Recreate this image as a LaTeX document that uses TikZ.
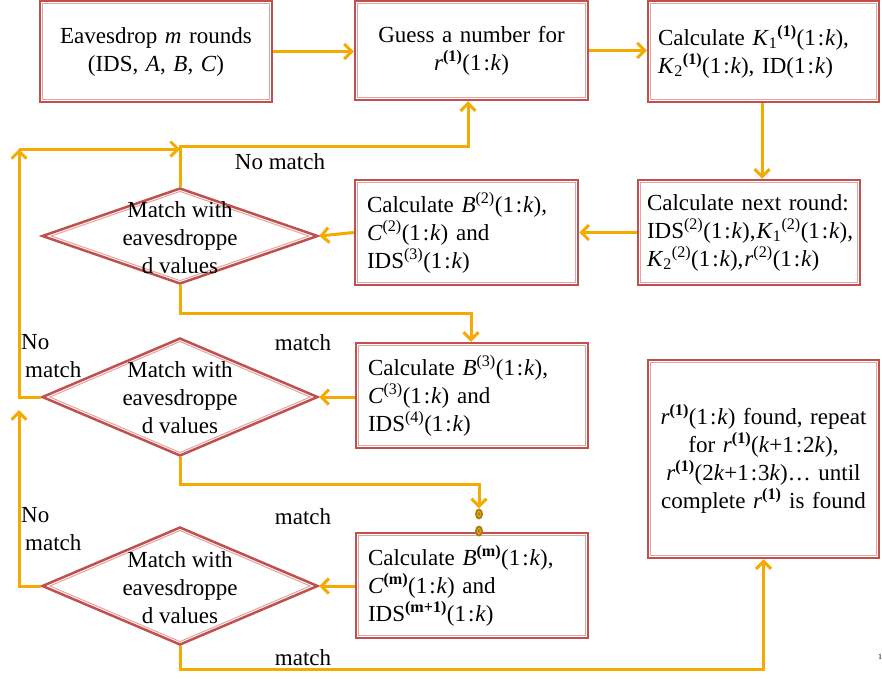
\documentclass[tikz,border=0pt]{standalone}
\usepackage{fontspec}
\setmainfont{Liberation Serif}
\usetikzlibrary{arrows.meta,shapes.geometric,calc}
\definecolor{bred}{HTML}{C0504D}
\definecolor{bpink}{HTML}{E3A3A1}
\definecolor{aorg}{RGB}{244,170,0}
\definecolor{dotc}{RGB}{176,126,8}
\definecolor{dotl}{RGB}{230,180,50}
\newcommand\OneK{(1\kern2pt:\kern0.8pt\textit{k})}
\newcommand\Sup[1]{\textsuperscript{#1}}
\newcommand\Sub[1]{\textsubscript{#1}}
\begin{document}
\begin{tikzpicture}[x=1pt,y=-1pt,
  every node/.style={font=\fontsize{23}{28}\selectfont, inner sep=0pt},
  box/.style={rectangle, draw=bred, line width=2.5pt, fill=white, inner ysep=0pt},
  lbox/.style={box, align=left},
  cbox/.style={box, align=center},
  dia/.style={diamond, draw=bred, line width=2.5pt, fill=white, inner sep=0pt, minimum width=276pt},
  diain/.style={diamond, draw=bpink, line width=1pt, inner sep=0pt},
  inline/.style={draw=bpink, line width=1pt},
  arr/.style={draw=aorg, line width=3pt, -{Straight Barb[length=7.5pt,width=15pt]}},
  dotnode/.style={ellipse, fill=dotc, minimum width=8pt, minimum height=11pt, inner sep=0pt}]
\useasboundingbox (0,0) rectangle (882,678);

% boxes
\node[cbox, minimum height=101pt, inner xsep=10pt, text width=212pt] (b1) at (156,51.5)
  {Eavesdrop \textit{m} rounds\\(IDS, \textit{A}, \textit{B}, \textit{C})};
\node[cbox, minimum height=99pt, inner xsep=10pt, text width=213pt] (b2) at (471.5,50.5)
  {Guess a number for\\\textit{r}\Sup{\textbf{(1)}}\OneK};
\node[lbox, minimum height=101pt, inner xsep=10pt, text width=211pt] (b3) at (763.5,51.5)
  {\mbox{Calculate \textit{K}\Sub{1}\Sup{\textbf{(1)}}\OneK,}\\\mbox{\textit{K}\Sub{2}\Sup{\textbf{(1)}}\OneK, ID\OneK}};
\node[lbox, minimum height=105pt, inner xsep=9pt, text width=204pt] (b4) at (749,232.5)
  {\mbox{Calculate next round:}\\\mbox{IDS\Sup{(2)}\OneK,\kern1pt\textit{K}\Sub{1}\Sup{(2)}\OneK,}\\\mbox{\textit{K}\Sub{2}\Sup{(2)}\OneK,\kern1pt\textit{r}\Sup{(2)}\OneK}};
\node[lbox, minimum height=105pt, inner xsep=12pt, text width=199pt] (b5) at (466.5,232.5)
  {Calculate \textit{B}\Sup{(2)}\OneK,\\\textit{C}\Sup{(2)}\OneK\ and\\IDS\Sup{(3)}\OneK};
\node[lbox, minimum height=105pt, inner xsep=12pt, text width=208pt] (b6) at (472,395.5)
  {Calculate \textit{B}\Sup{(3)}\OneK,\\\textit{C}\Sup{(3)}\OneK\ and\\IDS\Sup{(4)}\OneK};
\node[lbox, minimum height=105pt, inner xsep=12pt, text width=208pt] (b7) at (472,585.5)
  {Calculate \textit{B}\Sup{\textbf{(m)}}\OneK,\\\textit{C}\Sup{\textbf{(m)}}\OneK\ and\\IDS\Sup{\textbf{(m+1)}}\OneK};
\node[cbox, minimum height=198pt, inner xsep=8pt, text width=215pt] (b8) at (763.5,459)
  {\textit{r}\Sup{\textbf{(1)}}\OneK\ found, repeat\\for \textit{r}\Sup{\textbf{(1)}}(\textit{k}+1\kern2pt:\kern0.8pt2\textit{k}),\\\textit{r}\Sup{\textbf{(1)}}(2\textit{k}+1\kern2pt:\kern0.8pt3\textit{k})\dots\ until\\complete \textit{r}\Sup{\textbf{(1)}} is found};
\foreach \n in {b1,b2,b3,b4,b5,b6,b7,b8}
  \draw[inline] ([shift={(4,4)}]\n.north west) rectangle ([shift={(-4,-4)}]\n.south east);

% diamonds
\node[dia, minimum height=96pt] (d1) at (180,236) {};
\node[diain, minimum width=258pt, minimum height=89.6pt] (d1i) at (d1) {};
\node[align=center] (t1) at (180,238) {Match with\\eavesdroppe\\d values};
\node[dia, minimum height=118pt] (d2) at (180,397) {};
\node[diain, minimum width=260.8pt, minimum height=111.5pt] (d2i) at (d2) {};
\node[align=center] (t2) at (180,398) {Match with\\eavesdroppe\\d values};
\node[dia, minimum height=118pt] (d3) at (180,586) {};
\node[diain, minimum width=260.8pt, minimum height=111.5pt] (d3i) at (d3) {};
\node[align=center] (t3) at (180,588) {Match with\\eavesdroppe\\d values};

% dots
\node[dotnode] (dot1) at (479,514) {};
\node[dotnode] (dot2) at (479,531) {};
\draw[dotl, line width=0.7pt] (dot1) ellipse (1.4pt and 2.8pt);
\draw[dotl, line width=0.7pt] (dot2) ellipse (1.4pt and 2.8pt);

% helper coordinates
\coordinate (x3) at (762,0);
\coordinate (ytop) at (0,146);
\coordinate (xb2) at (468,0);
\coordinate (xL) at (19,0);
\coordinate (yA) at (0,149);
\coordinate (yB) at (0,410);
\coordinate (yC) at (0,313);
\coordinate (xb6) at (471,0);
\coordinate (yD) at (0,484);
\coordinate (yF) at (0,669);

% connectors
\draw[arr] (b1.east) -- (b1.east -| b2.west);
\draw[arr] (b2.east) -- (b2.east -| b3.west);
\draw[arr] (b3.south -| x3) -- (b4.north -| x3);
\draw[arr] (b4.west) -- (b4.west -| b5.east);
\draw[arr] (b5.west) -- (d1.east);
\draw[arr] (b6.west |- d2.east) -- (d2.east);
\draw[arr] (b7.west |- d3.east) -- (d3.east);
\draw[arr] (d1.north) -- (d1.north |- ytop) -- (xb2 |- ytop) -- (xb2 |- b2.south);
\draw[arr] (d2.west) -- (xL |- d2.west) -- (xL |- yA);
\draw[arr] (xL |- yA) -- (d1.north |- yA);
\draw[arr] (d3.west) -- (xL |- d3.west) -- (xL |- yB);
\draw[arr] (d1.south) -- (d1.south |- yC) -- (xb6 |- yC) -- (xb6 |- b6.north);
\draw[arr] (d2.south) -- (d2.south |- yD) -- (dot1 |- yD) -- (dot1.north);
\draw[arr] (d3.south) -- (d3.south |- yF) -- (b8.south |- yF) -- (b8.south);

% labels
\node (nm1) at (280,162) {No match};
\node (m2) at (303,343) {match};
\node[align=left, anchor=west] (nm2) at (21,356.5) {No\\\hspace*{4pt}match};
\node (m3) at (303,517) {match};
\node[align=left, anchor=west] (nm3) at (21,529.5) {No\\\hspace*{4pt}match};
\node (m4) at (303,658) {match};
\node[font=\fontsize{8}{9}\selectfont] (pg) at (880,657) {1};
\end{tikzpicture}
\end{document}
